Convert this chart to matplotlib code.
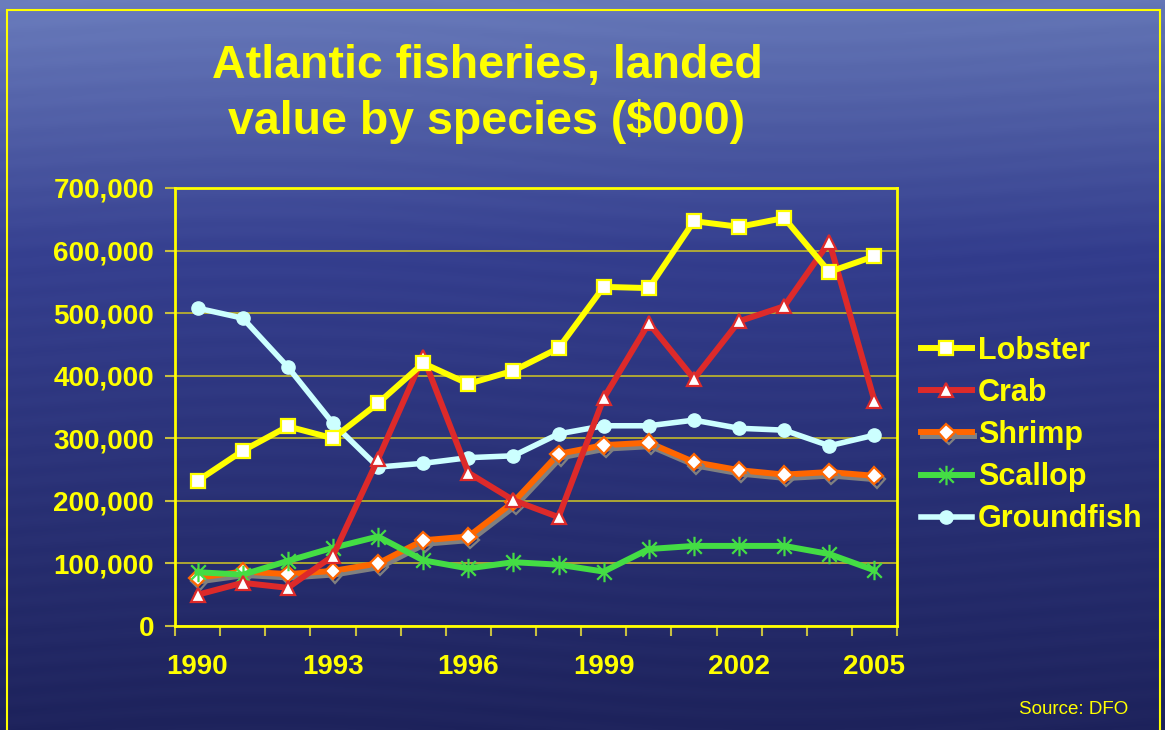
import numpy as np
import matplotlib
matplotlib.use('Agg')
import matplotlib.pyplot as plt
import matplotlib.patheffects as pe
from matplotlib.patches import Rectangle
from matplotlib.path import Path
from matplotlib.ticker import FuncFormatter

# Landed value by species, thousands of dollars
years = [1990, 1991, 1992, 1993, 1994, 1995, 1996, 1997,
         1998, 1999, 2000, 2001, 2002, 2003, 2004, 2005]
lobster = [232000, 280000, 319000, 300000, 356000, 420000, 387000, 408000,
           444000, 542000, 540000, 647000, 638000, 652000, 566000, 591000]
crab = [50000, 69000, 61000, 112000, 267000, 430000, 245000, 201000,
        174000, 364000, 484000, 395000, 487000, 511000, 614000, 360000]
shrimp = [77000, 87000, 83000, 88000, 100000, 137000, 143000, 198000,
          275000, 289000, 293000, 262000, 249000, 242000, 246000, 240000]
scallop = [86000, 82000, 104000, 125000, 143000, 105000, 92000, 102000,
           98000, 87000, 123000, 128000, 128000, 128000, 115000, 89000]
groundfish = [508000, 492000, 414000, 324000, 254000, 260000, 269000, 272000,
              307000, 320000, 320000, 329000, 316000, 313000, 288000, 305000]

YELLOW = '#ffff00'
plt.rcParams['font.family'] = ['Liberation Sans', 'DejaVu Sans']

# asterisk marker: vertical bar crossed by an X
star = Path([(0, -1), (0, 1), (-0.75, -0.75), (0.75, 0.75), (-0.75, 0.75), (0.75, -0.75)],
            [Path.MOVETO, Path.LINETO, Path.MOVETO, Path.LINETO, Path.MOVETO, Path.LINETO])

fig = plt.figure(figsize=(11.65, 7.30), dpi=100)

# ocean-like blue backdrop
bg = fig.add_axes([0, 0, 1, 1], zorder=-10)
h, w = 365, 580
yy, xx = np.mgrid[0:1:h * 1j, 0:1:w * 1j]
top = np.array([100, 118, 182]) / 255
mid = np.array([50, 60, 140]) / 255
bot = np.array([30, 35, 92]) / 255
t = yy[..., None]
img = np.where(t < 0.35, top + (mid - top) * (t / 0.35),
               mid + (bot - mid) * ((t - 0.35) / 0.65))
img = img + 0.025 * (1 - t) * (1 - xx[..., None])
ripple = 0.005 * np.sin(yy * 230 + np.sin(xx * 7) * 4)[..., None]
img = np.clip(img + ripple, 0, 1)
bg.imshow(img, aspect='auto', extent=[0, 1, 0, 1], origin='upper')
bg.set_xlim(0, 1)
bg.set_ylim(0, 1)
bg.axis('off')
bg.add_patch(Rectangle((7 / 1165, -0.02), 1153 / 1165, (730 - 10) / 730 + 0.02,
                       fill=False, edgecolor=YELLOW, lw=1.5))

ax = fig.add_axes([175 / 1165, 104 / 730, 722 / 1165, 438 / 730])
ax.patch.set_alpha(0)
x = np.arange(len(years))

line_kw = dict(lw=4.3, markersize=10.5, markeredgewidth=1.6, markerfacecolor='white')
ax.plot(x, groundfish, color='#ccffff', marker='o', markeredgecolor='#ccffff',
        label='Groundfish', zorder=3, lw=4, markersize=9.5)
ax.plot(x, shrimp, color='#ff6600', marker='D', markeredgecolor='#ff6600',
        label='Shrimp', zorder=4, lw=4.3, markersize=8.5, markeredgewidth=1.6,
        markerfacecolor='white',
        path_effects=[pe.SimpleLineShadow(offset=(1.5, -2.5), shadow_color='#808080', alpha=1),
                      pe.Normal()])
ax.plot(x, scallop, color='#44dd44', marker=star, markeredgecolor='#44dd44',
        label='Scallop', zorder=5, lw=4.3, markersize=14, markeredgewidth=1.6)
ax.plot(x, crab, color='#dd2a2a', marker='^', markeredgecolor='#dd2a2a',
        label='Crab', zorder=6, **line_kw)
ax.plot(x, lobster, color=YELLOW, marker='s', markeredgecolor=YELLOW,
        label='Lobster', zorder=7, **line_kw)

ax.set_xlim(-0.5, len(years) - 0.5)
ax.set_ylim(0, 700000)
ax.set_yticks(np.arange(0, 700001, 100000))
ax.yaxis.set_major_formatter(FuncFormatter(lambda v, p: f'{int(v):,}'))
ax.grid(axis='y', color='#b8b030', lw=1.3)
ax.set_axisbelow(True)

ax.set_xticks(np.arange(-0.5, len(years), 1))
ax.set_xticklabels([])
ax.set_xticks(x[::3], minor=True)
ax.set_xticklabels([str(y) for y in years[::3]], minor=True)
ax.tick_params(axis='x', which='major', length=7, width=1.5, color='#c8c040', direction='out')
ax.tick_params(axis='x', which='minor', length=0, pad=20)
ax.tick_params(axis='y', length=7, width=1.5, color='#c8c040', direction='out', pad=8)
for lab in ax.get_xticklabels(minor=True) + ax.get_yticklabels():
    lab.set_color(YELLOW)
    lab.set_fontsize(20)
    lab.set_fontweight('bold')
for s in ax.spines.values():
    s.set_color(YELLOW)
    s.set_linewidth(2)

handles, labels = ax.get_legend_handles_labels()
order = ['Lobster', 'Crab', 'Shrimp', 'Scallop', 'Groundfish']
hmap = dict(zip(labels, handles))
leg = fig.legend([hmap[k] for k in order], order, loc='center left',
                 bbox_to_anchor=(906 / 1165, (730 - 435) / 730), frameon=False,
                 prop={'family': 'Liberation Sans', 'weight': 'bold', 'size': 22},
                 handlelength=1.65, handletextpad=0.2, labelspacing=0.40,
                 numpoints=1, borderpad=0)
for txt in leg.get_texts():
    txt.set_color(YELLOW)

fig.text(487 / 1165, (730 - 66) / 730, 'Atlantic fisheries, landed', ha='center', va='center',
         color=YELLOW, fontsize=33.5, fontweight='bold')
fig.text(487 / 1165, (730 - 121) / 730, 'value by species ($000)', ha='center', va='center',
         color=YELLOW, fontsize=33.5, fontweight='bold')
fig.text(1128 / 1165, (730 - 710) / 730, 'Source: DFO', ha='right', va='center',
         color=YELLOW, fontsize=13.5)

fig.savefig('out.png', dpi=100)
